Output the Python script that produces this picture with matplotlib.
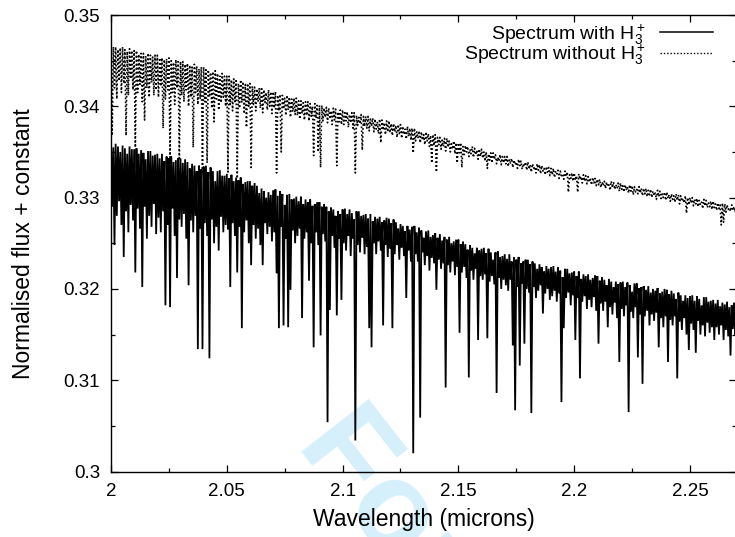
import matplotlib
matplotlib.use("Agg")
import matplotlib.pyplot as plt
import numpy as np
from matplotlib.ticker import MultipleLocator, FixedLocator, FixedFormatter

plt.rcParams['font.family'] = ['Liberation Sans', 'DejaVu Sans']
plt.rcParams['mathtext.fontset'] = 'custom'
plt.rcParams['mathtext.rm'] = 'Liberation Sans'
plt.rcParams['mathtext.it'] = 'Liberation Sans:italic'

# ---------------- data ----------------
# local maxima of the spectra (sampled every 0.001 micron)
peak_wavelength = [
    2.000, 2.001, 2.002, 2.003, 2.004, 2.005, 2.006, 2.007, 2.008, 2.009,
    2.010, 2.011, 2.012, 2.013, 2.014, 2.015, 2.016, 2.017, 2.018, 2.019,
    2.020, 2.021, 2.022, 2.023, 2.024, 2.025, 2.026, 2.027, 2.028, 2.029,
    2.030, 2.031, 2.032, 2.033, 2.034, 2.035, 2.036, 2.037, 2.038, 2.039,
    2.040, 2.041, 2.042, 2.043, 2.044, 2.045, 2.046, 2.047, 2.048, 2.049,
    2.050, 2.051, 2.052, 2.053, 2.054, 2.055, 2.056, 2.057, 2.058, 2.059,
    2.060, 2.061, 2.062, 2.063, 2.064, 2.065, 2.066, 2.067, 2.068, 2.069,
    2.070, 2.071, 2.072, 2.073, 2.074, 2.075, 2.076, 2.077, 2.078, 2.079,
    2.080, 2.081, 2.082, 2.083, 2.084, 2.085, 2.086, 2.087, 2.088, 2.089,
    2.090, 2.091, 2.092, 2.093, 2.094, 2.095, 2.096, 2.097, 2.098, 2.099,
    2.100, 2.101, 2.102, 2.103, 2.104, 2.105, 2.106, 2.107, 2.108, 2.109,
    2.110, 2.111, 2.112, 2.113, 2.114, 2.115, 2.116, 2.117, 2.118, 2.119,
    2.120, 2.121, 2.122, 2.123, 2.124, 2.125, 2.126, 2.127, 2.128, 2.129,
    2.130, 2.131, 2.132, 2.133, 2.134, 2.135, 2.136, 2.137, 2.138, 2.139,
    2.140, 2.141, 2.142, 2.143, 2.144, 2.145, 2.146, 2.147, 2.148, 2.149,
    2.150, 2.151, 2.152, 2.153, 2.154, 2.155, 2.156, 2.157, 2.158, 2.159,
    2.160, 2.161, 2.162, 2.163, 2.164, 2.165, 2.166, 2.167, 2.168, 2.169,
    2.170, 2.171, 2.172, 2.173, 2.174, 2.175, 2.176, 2.177, 2.178, 2.179,
    2.180, 2.181, 2.182, 2.183, 2.184, 2.185, 2.186, 2.187, 2.188, 2.189,
    2.190, 2.191, 2.192, 2.193, 2.194, 2.195, 2.196, 2.197, 2.198, 2.199,
    2.200, 2.201, 2.202, 2.203, 2.204, 2.205, 2.206, 2.207, 2.208, 2.209,
    2.210, 2.211, 2.212, 2.213, 2.214, 2.215, 2.216, 2.217, 2.218, 2.219,
    2.220, 2.221, 2.222, 2.223, 2.224, 2.225, 2.226, 2.227, 2.228, 2.229,
    2.230, 2.231, 2.232, 2.233, 2.234, 2.235, 2.236, 2.237, 2.238, 2.239,
    2.240, 2.241, 2.242, 2.243, 2.244, 2.245, 2.246, 2.247, 2.248, 2.249,
    2.250, 2.251, 2.252, 2.253, 2.254, 2.255, 2.256, 2.257, 2.258, 2.259,
    2.260, 2.261, 2.262, 2.263, 2.264, 2.265, 2.266, 2.267, 2.268, 2.269,
    2.270,
]

# local minima (absorption lines), between the maxima
trough_wavelength = [
    2.0005, 2.0015, 2.0025, 2.0035, 2.0045, 2.0055, 2.0065, 2.0075, 2.0085, 2.0095,
    2.0105, 2.0115, 2.0125, 2.0135, 2.0145, 2.0155, 2.0165, 2.0175, 2.0185, 2.0195,
    2.0205, 2.0215, 2.0225, 2.0235, 2.0245, 2.0255, 2.0265, 2.0275, 2.0285, 2.0295,
    2.0305, 2.0315, 2.0325, 2.0335, 2.0345, 2.0355, 2.0365, 2.0375, 2.0385, 2.0395,
    2.0405, 2.0415, 2.0425, 2.0435, 2.0445, 2.0455, 2.0465, 2.0475, 2.0485, 2.0495,
    2.0505, 2.0515, 2.0525, 2.0535, 2.0545, 2.0555, 2.0565, 2.0575, 2.0585, 2.0595,
    2.0605, 2.0615, 2.0625, 2.0635, 2.0645, 2.0655, 2.0665, 2.0675, 2.0685, 2.0695,
    2.0705, 2.0715, 2.0725, 2.0735, 2.0745, 2.0755, 2.0765, 2.0775, 2.0785, 2.0795,
    2.0805, 2.0815, 2.0825, 2.0835, 2.0845, 2.0855, 2.0865, 2.0875, 2.0885, 2.0895,
    2.0905, 2.0915, 2.0925, 2.0935, 2.0945, 2.0955, 2.0965, 2.0975, 2.0985, 2.0995,
    2.1005, 2.1015, 2.1025, 2.1035, 2.1045, 2.1055, 2.1065, 2.1075, 2.1085, 2.1095,
    2.1105, 2.1115, 2.1125, 2.1135, 2.1145, 2.1155, 2.1165, 2.1175, 2.1185, 2.1195,
    2.1205, 2.1215, 2.1225, 2.1235, 2.1245, 2.1255, 2.1265, 2.1275, 2.1285, 2.1295,
    2.1305, 2.1315, 2.1325, 2.1335, 2.1345, 2.1355, 2.1365, 2.1375, 2.1385, 2.1395,
    2.1405, 2.1415, 2.1425, 2.1435, 2.1445, 2.1455, 2.1465, 2.1475, 2.1485, 2.1495,
    2.1505, 2.1515, 2.1525, 2.1535, 2.1545, 2.1555, 2.1565, 2.1575, 2.1585, 2.1595,
    2.1605, 2.1615, 2.1625, 2.1635, 2.1645, 2.1655, 2.1665, 2.1675, 2.1685, 2.1695,
    2.1705, 2.1715, 2.1725, 2.1735, 2.1745, 2.1755, 2.1765, 2.1775, 2.1785, 2.1795,
    2.1805, 2.1815, 2.1825, 2.1835, 2.1845, 2.1855, 2.1865, 2.1875, 2.1885, 2.1895,
    2.1905, 2.1915, 2.1925, 2.1935, 2.1945, 2.1955, 2.1965, 2.1975, 2.1985, 2.1995,
    2.2005, 2.2015, 2.2025, 2.2035, 2.2045, 2.2055, 2.2065, 2.2075, 2.2085, 2.2095,
    2.2105, 2.2115, 2.2125, 2.2135, 2.2145, 2.2155, 2.2165, 2.2175, 2.2185, 2.2195,
    2.2205, 2.2215, 2.2225, 2.2235, 2.2245, 2.2255, 2.2265, 2.2275, 2.2285, 2.2295,
    2.2305, 2.2315, 2.2325, 2.2335, 2.2345, 2.2355, 2.2365, 2.2375, 2.2385, 2.2395,
    2.2405, 2.2415, 2.2425, 2.2435, 2.2445, 2.2455, 2.2465, 2.2475, 2.2485, 2.2495,
    2.2505, 2.2515, 2.2525, 2.2535, 2.2545, 2.2555, 2.2565, 2.2575, 2.2585, 2.2595,
    2.2605, 2.2615, 2.2625, 2.2635, 2.2645, 2.2655, 2.2665, 2.2675, 2.2685, 2.2695,
]

with_h3_peaks = [
    0.3360, 0.3355, 0.3359, 0.3356, 0.3350, 0.3357, 0.3354, 0.3348, 0.3356, 0.3353,
    0.3353, 0.3354, 0.3348, 0.3352, 0.3349, 0.3342, 0.3351, 0.3351, 0.3346, 0.3347,
    0.3348, 0.3343, 0.3348, 0.3340, 0.3345, 0.3343, 0.3345, 0.3339, 0.3341, 0.3343,
    0.3343, 0.3338, 0.3342, 0.3339, 0.3332, 0.3337, 0.3335, 0.3329, 0.3335, 0.3331,
    0.3334, 0.3335, 0.3328, 0.3333, 0.3329, 0.3318, 0.3329, 0.3330, 0.3324, 0.3324,
    0.3326, 0.3321, 0.3325, 0.3318, 0.3322, 0.3319, 0.3322, 0.3315, 0.3317, 0.3318,
    0.3318, 0.3313, 0.3316, 0.3313, 0.3305, 0.3310, 0.3307, 0.3300, 0.3306, 0.3303,
    0.3308, 0.3309, 0.3302, 0.3307, 0.3304, 0.3292, 0.3303, 0.3304, 0.3298, 0.3299,
    0.3301, 0.3296, 0.3301, 0.3293, 0.3298, 0.3295, 0.3298, 0.3291, 0.3293, 0.3295,
    0.3295, 0.3290, 0.3293, 0.3290, 0.3285, 0.3289, 0.3287, 0.3280, 0.3285, 0.3282,
    0.3287, 0.3288, 0.3282, 0.3287, 0.3283, 0.3276, 0.3285, 0.3285, 0.3280, 0.3281,
    0.3282, 0.3277, 0.3282, 0.3274, 0.3279, 0.3277, 0.3279, 0.3273, 0.3275, 0.3278,
    0.3277, 0.3272, 0.3276, 0.3273, 0.3266, 0.3271, 0.3269, 0.3263, 0.3269, 0.3265,
    0.3268, 0.3269, 0.3262, 0.3267, 0.3264, 0.3256, 0.3263, 0.3264, 0.3257, 0.3259,
    0.3261, 0.3256, 0.3260, 0.3253, 0.3257, 0.3254, 0.3257, 0.3250, 0.3252, 0.3254,
    0.3254, 0.3249, 0.3252, 0.3249, 0.3243, 0.3248, 0.3245, 0.3239, 0.3245, 0.3242,
    0.3244, 0.3245, 0.3239, 0.3244, 0.3240, 0.3232, 0.3240, 0.3241, 0.3235, 0.3236,
    0.3238, 0.3233, 0.3238, 0.3230, 0.3235, 0.3232, 0.3235, 0.3228, 0.3230, 0.3232,
    0.3232, 0.3227, 0.3230, 0.3228, 0.3222, 0.3227, 0.3224, 0.3219, 0.3225, 0.3222,
    0.3224, 0.3225, 0.3219, 0.3224, 0.3220, 0.3213, 0.3222, 0.3222, 0.3217, 0.3218,
    0.3219, 0.3214, 0.3219, 0.3211, 0.3216, 0.3214, 0.3216, 0.3210, 0.3212, 0.3215,
    0.3214, 0.3209, 0.3213, 0.3210, 0.3204, 0.3211, 0.3208, 0.3202, 0.3208, 0.3205,
    0.3207, 0.3208, 0.3202, 0.3207, 0.3204, 0.3197, 0.3206, 0.3206, 0.3201, 0.3202,
    0.3203, 0.3199, 0.3203, 0.3196, 0.3200, 0.3198, 0.3201, 0.3195, 0.3197, 0.3200,
    0.3199, 0.3194, 0.3198, 0.3195, 0.3189, 0.3196, 0.3193, 0.3187, 0.3193, 0.3190,
    0.3192, 0.3193, 0.3187, 0.3192, 0.3189, 0.3182, 0.3191, 0.3191, 0.3186, 0.3187,
    0.3188, 0.3184, 0.3188, 0.3181, 0.3185, 0.3183, 0.3186, 0.3180, 0.3182, 0.3185,
    0.3184,
]

with_h3_troughs = [
    0.3290, 0.3248, 0.3280, 0.3296, 0.3270, 0.3235, 0.3285, 0.3262, 0.3292, 0.3275,
    0.3218, 0.3288, 0.3266, 0.3202, 0.3290, 0.3255, 0.3280, 0.3268, 0.3293, 0.3260,
    0.3278, 0.3262, 0.3285, 0.3182, 0.3270, 0.3180, 0.3288, 0.3258, 0.3212, 0.3276,
    0.3268, 0.3282, 0.3255, 0.3204, 0.3275, 0.3262, 0.3280, 0.3134, 0.3266, 0.3134,
    0.3272, 0.3258, 0.3124, 0.3276, 0.3250, 0.3268, 0.3242, 0.3279, 0.3262, 0.3270,
    0.3265, 0.3202, 0.3272, 0.3258, 0.3218, 0.3268, 0.3157, 0.3262, 0.3275, 0.3250,
    0.3226, 0.3270, 0.3255, 0.3266, 0.3248, 0.3226, 0.3272, 0.3260, 0.3268, 0.3252,
    0.3262, 0.3217, 0.3157, 0.3268, 0.3160, 0.3255, 0.3158, 0.3199, 0.3264, 0.3250,
    0.3258, 0.3266, 0.3168, 0.3255, 0.3262, 0.3209, 0.3250, 0.3136, 0.3262, 0.3248,
    0.3149, 0.3260, 0.3252, 0.3054, 0.3177, 0.3258, 0.3245, 0.3171, 0.3255, 0.3188,
    0.3250, 0.3242, 0.3258, 0.3236, 0.3255, 0.3034, 0.3248, 0.3240, 0.3256, 0.3238,
    0.3246, 0.3157, 0.3136, 0.3250, 0.3238, 0.3252, 0.3242, 0.3160, 0.3248, 0.3235,
    0.3244, 0.3157, 0.3238, 0.3248, 0.3232, 0.3245, 0.3236, 0.3190, 0.3242, 0.3230,
    0.3020, 0.3238, 0.3230, 0.3059, 0.3240, 0.3226, 0.3236, 0.3220, 0.3234, 0.3228,
    0.3199, 0.3232, 0.3222, 0.3228, 0.3092, 0.3226, 0.3218, 0.3230, 0.3215, 0.3224,
    0.3152, 0.3218, 0.3224, 0.3212, 0.3103, 0.3220, 0.3210, 0.3222, 0.3144, 0.3214,
    0.3210, 0.3216, 0.3146, 0.3208, 0.3214, 0.3205, 0.3086, 0.3212, 0.3200, 0.3210,
    0.3204, 0.3198, 0.3210, 0.3138, 0.3067, 0.3202, 0.3116, 0.3206, 0.3140, 0.3200,
    0.3196, 0.3064, 0.3202, 0.3190, 0.3198, 0.3204, 0.3173, 0.3195, 0.3200, 0.3188,
    0.3192, 0.3198, 0.3186, 0.3195, 0.3076, 0.3157, 0.3190, 0.3196, 0.3182, 0.3193,
    0.3144, 0.3190, 0.3102, 0.3186, 0.3192, 0.3178, 0.3188, 0.3180, 0.3191, 0.3176,
    0.3140, 0.3184, 0.3176, 0.3186, 0.3158, 0.3180, 0.3172, 0.3185, 0.3168, 0.3120,
    0.3178, 0.3170, 0.3182, 0.3065, 0.3175, 0.3168, 0.3180, 0.3125, 0.3172, 0.3096,
    0.3170, 0.3176, 0.3160, 0.3172, 0.3165, 0.3174, 0.3136, 0.3168, 0.3158, 0.3170,
    0.3120, 0.3166, 0.3160, 0.3170, 0.3102, 0.3164, 0.3155, 0.3168, 0.3150, 0.3133,
    0.3162, 0.3155, 0.3130, 0.3165, 0.3150, 0.3160, 0.3148, 0.3163, 0.3152, 0.3158,
    0.3144, 0.3158, 0.3150, 0.3160, 0.3144, 0.3155, 0.3148, 0.3127, 0.3156, 0.3150,
]

without_h3_peaks = [
    0.3468, 0.3465, 0.3465, 0.3462, 0.3464, 0.3465, 0.3462, 0.3460, 0.3463, 0.3461,
    0.3461, 0.3461, 0.3457, 0.3458, 0.3458, 0.3455, 0.3458, 0.3456, 0.3454, 0.3456,
    0.3456, 0.3453, 0.3453, 0.3451, 0.3452, 0.3453, 0.3450, 0.3448, 0.3451, 0.3449,
    0.3449, 0.3449, 0.3446, 0.3447, 0.3445, 0.3443, 0.3446, 0.3444, 0.3441, 0.3443,
    0.3443, 0.3440, 0.3440, 0.3437, 0.3438, 0.3439, 0.3436, 0.3433, 0.3436, 0.3433,
    0.3433, 0.3433, 0.3429, 0.3430, 0.3428, 0.3425, 0.3429, 0.3427, 0.3424, 0.3425,
    0.3425, 0.3422, 0.3421, 0.3419, 0.3420, 0.3421, 0.3418, 0.3415, 0.3418, 0.3416,
    0.3416, 0.3416, 0.3412, 0.3413, 0.3412, 0.3409, 0.3412, 0.3410, 0.3408, 0.3409,
    0.3409, 0.3406, 0.3406, 0.3404, 0.3405, 0.3405, 0.3403, 0.3400, 0.3403, 0.3401,
    0.3401, 0.3401, 0.3398, 0.3399, 0.3398, 0.3395, 0.3398, 0.3397, 0.3394, 0.3396,
    0.3396, 0.3393, 0.3394, 0.3391, 0.3393, 0.3393, 0.3390, 0.3388, 0.3391, 0.3389,
    0.3389, 0.3389, 0.3386, 0.3387, 0.3386, 0.3383, 0.3386, 0.3385, 0.3382, 0.3384,
    0.3384, 0.3381, 0.3381, 0.3379, 0.3380, 0.3380, 0.3378, 0.3375, 0.3378, 0.3376,
    0.3376, 0.3376, 0.3372, 0.3373, 0.3372, 0.3369, 0.3372, 0.3370, 0.3368, 0.3369,
    0.3369, 0.3366, 0.3366, 0.3363, 0.3365, 0.3365, 0.3362, 0.3359, 0.3362, 0.3360,
    0.3360, 0.3360, 0.3356, 0.3357, 0.3356, 0.3353, 0.3356, 0.3354, 0.3352, 0.3353,
    0.3353, 0.3350, 0.3350, 0.3348, 0.3349, 0.3349, 0.3347, 0.3344, 0.3347, 0.3345,
    0.3345, 0.3345, 0.3342, 0.3343, 0.3341, 0.3339, 0.3342, 0.3340, 0.3337, 0.3339,
    0.3339, 0.3336, 0.3337, 0.3334, 0.3337, 0.3336, 0.3335, 0.3332, 0.3334, 0.3333,
    0.3332, 0.3332, 0.3329, 0.3330, 0.3329, 0.3326, 0.3329, 0.3328, 0.3325, 0.3327,
    0.3327, 0.3324, 0.3326, 0.3323, 0.3325, 0.3324, 0.3323, 0.3320, 0.3322, 0.3321,
    0.3320, 0.3320, 0.3317, 0.3318, 0.3317, 0.3314, 0.3318, 0.3317, 0.3314, 0.3316,
    0.3316, 0.3313, 0.3314, 0.3312, 0.3314, 0.3313, 0.3312, 0.3309, 0.3312, 0.3310,
    0.3310, 0.3310, 0.3308, 0.3309, 0.3307, 0.3305, 0.3308, 0.3307, 0.3304, 0.3306,
    0.3306, 0.3303, 0.3304, 0.3302, 0.3304, 0.3303, 0.3302, 0.3299, 0.3302, 0.3300,
    0.3300, 0.3300, 0.3298, 0.3299, 0.3297, 0.3295, 0.3298, 0.3297, 0.3294, 0.3296,
    0.3296, 0.3293, 0.3294, 0.3292, 0.3294, 0.3293, 0.3292, 0.3289, 0.3292, 0.3290,
    0.3291,
]

without_h3_troughs = [
    0.3368, 0.3420, 0.3408, 0.3428, 0.3415, 0.3425, 0.3368, 0.3412, 0.3430, 0.3418,
    0.3355, 0.3415, 0.3424, 0.3405, 0.3385, 0.3420, 0.3410, 0.3426, 0.3412, 0.3418,
    0.3410, 0.3422, 0.3376, 0.3408, 0.3418, 0.3344, 0.3415, 0.3402, 0.3420, 0.3341,
    0.3412, 0.3405, 0.3418, 0.3400, 0.3410, 0.3355, 0.3415, 0.3402, 0.3408, 0.3328,
    0.3405, 0.3338, 0.3410, 0.3398, 0.3383, 0.3408, 0.3396, 0.3404, 0.3410, 0.3400,
    0.3328, 0.3402, 0.3395, 0.3405, 0.3321, 0.3398, 0.3404, 0.3392, 0.3377, 0.3400,
    0.3333, 0.3402, 0.3395, 0.3405, 0.3398, 0.3393, 0.3404, 0.3396, 0.3400, 0.3392,
    0.3398, 0.3327, 0.3395, 0.3350, 0.3397, 0.3390, 0.3396, 0.3388, 0.3394, 0.3391,
    0.3390, 0.3386, 0.3392, 0.3385, 0.3390, 0.3384, 0.3389, 0.3346, 0.3387, 0.3350,
    0.3333, 0.3384, 0.3388, 0.3382, 0.3386, 0.3380, 0.3385, 0.3335, 0.3383, 0.3380,
    0.3380, 0.3384, 0.3377, 0.3382, 0.3376, 0.3327, 0.3379, 0.3381, 0.3352, 0.3378,
    0.3376, 0.3373, 0.3378, 0.3372, 0.3375, 0.3370, 0.3360, 0.3374, 0.3369, 0.3372,
    0.3371, 0.3368, 0.3372, 0.3366, 0.3370, 0.3365, 0.3369, 0.3364, 0.3367, 0.3363,
    0.3349, 0.3362, 0.3365, 0.3360, 0.3363, 0.3358, 0.3362, 0.3356, 0.3338, 0.3357,
    0.3328, 0.3358, 0.3353, 0.3356, 0.3351, 0.3355, 0.3350, 0.3353, 0.3348, 0.3338,
    0.3349, 0.3333, 0.3347, 0.3350, 0.3345, 0.3348, 0.3344, 0.3347, 0.3342, 0.3345,
    0.3343, 0.3340, 0.3332, 0.3341, 0.3338, 0.3342, 0.3337, 0.3340, 0.3336, 0.3338,
    0.3337, 0.3334, 0.3338, 0.3333, 0.3336, 0.3332, 0.3335, 0.3331, 0.3334, 0.3330,
    0.3331, 0.3328, 0.3332, 0.3327, 0.3330, 0.3326, 0.3329, 0.3325, 0.3328, 0.3324,
    0.3325, 0.3322, 0.3326, 0.3321, 0.3324, 0.3320, 0.3323, 0.3306, 0.3321, 0.3318,
    0.3319, 0.3306, 0.3320, 0.3316, 0.3318, 0.3315, 0.3317, 0.3314, 0.3316, 0.3313,
    0.3314, 0.3311, 0.3313, 0.3310, 0.3312, 0.3308, 0.3311, 0.3309, 0.3310, 0.3307,
    0.3309, 0.3306, 0.3308, 0.3305, 0.3307, 0.3303, 0.3306, 0.3304, 0.3305, 0.3302,
    0.3304, 0.3301, 0.3303, 0.3300, 0.3302, 0.3298, 0.3301, 0.3299, 0.3300, 0.3297,
    0.3299, 0.3296, 0.3298, 0.3295, 0.3297, 0.3293, 0.3296, 0.3294, 0.3283, 0.3292,
    0.3294, 0.3291, 0.3293, 0.3290, 0.3292, 0.3288, 0.3291, 0.3289, 0.3290, 0.3287,
    0.3289, 0.3286, 0.3288, 0.3270, 0.3273, 0.3284, 0.3287, 0.3285, 0.3286, 0.3284,
]

series_labels = [r'Spectrum with $\mathrm{H}_3^+$', r'Spectrum without $\mathrm{H}_3^+$']
x_ticks = [2.0, 2.05, 2.1, 2.15, 2.2, 2.25]
x_tick_labels = ['2', '2.05', '2.1', '2.15', '2.2', '2.25']
y_ticks = [0.30, 0.31, 0.32, 0.33, 0.34, 0.35]
y_tick_labels = ['0.3', '0.31', '0.32', '0.33', '0.34', '0.35']
x_label = 'Wavelength (microns)'
y_label = 'Normalised flux + constant'
watermark = 'For Peer Review'


def merge(peak_wl, peak_f, trough_wl, trough_f):
    wl = np.concatenate([peak_wl, trough_wl])
    fl = np.concatenate([peak_f, trough_f])
    order = np.argsort(wl)
    return wl[order], fl[order]


wl_with, fl_with = merge(peak_wavelength, with_h3_peaks, trough_wavelength, with_h3_troughs)
wl_without, fl_without = merge(peak_wavelength, without_h3_peaks, trough_wavelength, without_h3_troughs)

# ---------------- figure ----------------
W, H = 735, 537
fig = plt.figure(figsize=(W / 100, H / 100), dpi=100)
ax_left, ax_right, ax_top, ax_bot = 111, 736.3, 15, 471.5
ax = fig.add_axes([ax_left / W, 1 - ax_bot / H, (ax_right - ax_left) / W, (ax_bot - ax_top) / H])
ax.set_facecolor('none')

fig.text(296 / W, 1 - 444 / H, watermark, fontsize=90, fontweight='bold',
         color='#d5effb', rotation=-52, rotation_mode='anchor',
         ha='left', va='baseline', zorder=-1)

ax.plot(wl_with, fl_with, color='black', lw=1.3, ls='-',
        solid_joinstyle='miter', label=series_labels[0])
ax.plot(wl_without, fl_without, color='black', lw=1.2, ls=(0, (1.0, 1.4)),
        label=series_labels[1])

ax.set_xlim(2.0, 2.27)
ax.set_ylim(0.30, 0.35)
ax.xaxis.set_major_locator(FixedLocator(x_ticks))
ax.xaxis.set_major_formatter(FixedFormatter(x_tick_labels))
ax.yaxis.set_major_locator(FixedLocator(y_ticks))
ax.yaxis.set_major_formatter(FixedFormatter(y_tick_labels))
ax.xaxis.set_minor_locator(MultipleLocator(0.025))
ax.yaxis.set_minor_locator(MultipleLocator(0.005))
ax.tick_params(which='both', direction='in', top=True, right=True, width=0.9, colors='black')
ax.tick_params(which='major', length=5, labelsize=13.5, pad=8)
ax.tick_params(which='minor', length=3)
for s in ax.spines.values():
    s.set_linewidth(1.0)

ax.set_xlabel(x_label, fontsize=16.5, labelpad=6)
ax.set_ylabel(y_label, fontsize=16.5, labelpad=20)

leg = ax.legend(loc='upper right', bbox_to_anchor=(0.9627, 0.984), frameon=False,
                markerfirst=False, fontsize=14, handlelength=2.7, handletextpad=0.75,
                labelspacing=-0.18, borderaxespad=0, borderpad=0)
leg.get_lines()[0].set_linewidth(1.1)
leg.get_lines()[1].set_linewidth(1.0)

fig.savefig('out.png', dpi=100)
